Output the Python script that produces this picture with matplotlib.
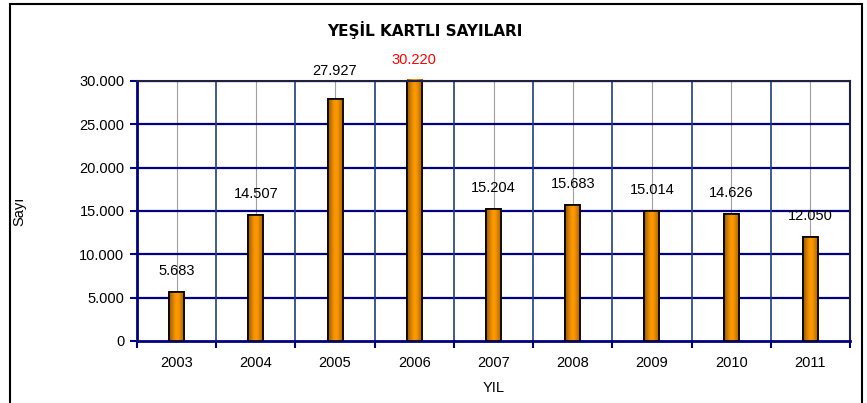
import matplotlib
matplotlib.use("Agg")
import matplotlib.pyplot as plt
import matplotlib.patches as patches
import numpy as np

# data
years = ['2003', '2004', '2005', '2006', '2007', '2008', '2009', '2010', '2011']
counts = [5683, 14507, 27927, 30220, 15204, 15683, 15014, 14626, 12050]
labels = ['5.683', '14.507', '27.927', '30.220', '15.204', '15.683', '15.014', '14.626', '12.050']
yticks = [0, 5000, 10000, 15000, 20000, 25000, 30000]
ytick_labels = ['0', '5.000', '10.000', '15.000', '20.000', '25.000', '30.000']

plt.rcParams['font.family'] = ['Liberation Sans', 'DejaVu Sans']
navy = '#000080'
fs = 10.5

fig = plt.figure(figsize=(8.67, 4.03), dpi=100)
ax = fig.add_axes([137/867, 1 - 341/403, (850 - 137)/867, (341 - 81)/403])

x = np.arange(len(years))
bars = ax.bar(x, counts, width=0.19, color='#FF9900', edgecolor='black', linewidth=1.2, zorder=3)

# horizontal gradient on each bar (darker at the edges)
grad = np.linspace(-1, 1, 64)
shade = 1 - 0.45 * np.abs(grad) ** 1.5
rgb = np.array([1.0, 0.6, 0.0])
img = (shade[:, None] * rgb[None, :])[None, :, :]
for b in bars:
    x0, w, h = b.get_x(), b.get_width(), b.get_height()
    im = ax.imshow(img, extent=[x0, x0 + w, 0, h], aspect='auto', zorder=3.5, interpolation='bilinear')
    im.set_clip_path(b)
    ax.add_patch(patches.Rectangle((x0, 0), w, h, fill=False, edgecolor='black', linewidth=1.2, zorder=4))

ymax = 30000
ax.set_xlim(-0.5, len(years) - 0.5)
ax.set_ylim(0, ymax)

# grid lines
for v in yticks[1:]:
    ax.axhline(v, color=navy, linewidth=1.6, zorder=2)
for k in range(1, len(years)):
    ax.axvline(k - 0.5, color='#1F3F7A', linewidth=1.2, zorder=2)
for k in range(len(years)):
    ax.axvline(k, color='#A0A0A0', linewidth=0.8, zorder=1)

ax.set_yticks(yticks)
ax.set_yticklabels(ytick_labels, fontsize=fs)
ax.set_xticks(np.arange(len(years) + 1) - 0.5)
ax.set_xticklabels([])
ax.set_xticks(x, minor=True)
ax.set_xticklabels(years, minor=True, fontsize=fs)
ax.tick_params(axis='x', which='minor', length=0, pad=11)
ax.tick_params(axis='x', which='major', length=5, width=1.5, color=navy)
ax.tick_params(axis='y', length=5, width=1.5, color=navy, pad=4)

for s in ['left', 'bottom']:
    ax.spines[s].set_color(navy)
    ax.spines[s].set_linewidth(2)
ax.spines['top'].set_color('#202040')
ax.spines['right'].set_color('#202040')
ax.spines['top'].set_linewidth(1.5)
ax.spines['right'].set_linewidth(1.5)
ax.spines['top'].set_zorder(5)

for i, (c, lab) in enumerate(zip(counts, labels)):
    col = 'red' if i == 3 else 'black'
    if c >= ymax:
        xy, off = (i, ymax), 10
    elif c > 0.9 * ymax:
        xy, off = (i, ymax), 2
    else:
        xy, off = (i, c), 10
    ax.annotate(lab, xy, xytext=(0, off), textcoords='offset points',
                ha='center', va='bottom', fontsize=fs, color=col, annotation_clip=False, zorder=6)

ax.set_xlabel('YIL', fontsize=fs, labelpad=8)
ax.set_ylabel('Sayı', fontsize=fs, labelpad=38)
fig.text(425/867, 1 - 30/403, 'YEŞİL KARTLI SAYILARI', ha='center', va='center',
         fontsize=11, fontweight='bold', family=['DejaVu Sans'])

# outer frame
fig.add_artist(patches.Rectangle((10/867, -0.01), 852/867, 1 - 4/403 + 0.01,
                                 transform=fig.transFigure, fill=False, edgecolor='black', linewidth=1.5))

fig.savefig('out.png', dpi=100)
